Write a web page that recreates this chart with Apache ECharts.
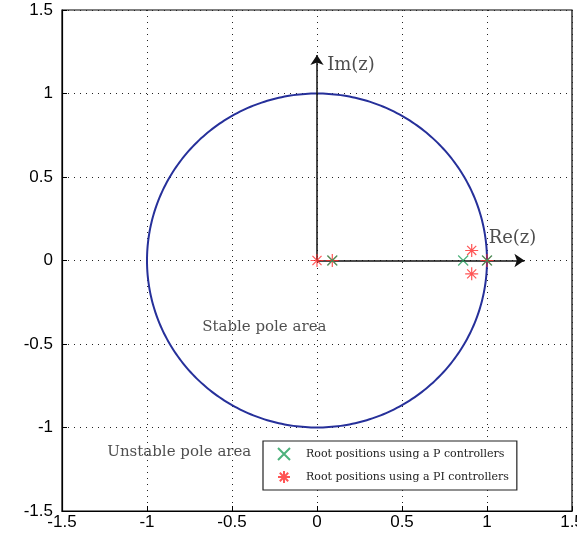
<!DOCTYPE html>
<html><head><meta charset="utf-8">
<script src="https://cdn.jsdelivr.net/npm/echarts@6/dist/echarts.min.js"></script>
<style>html,body{margin:0;padding:0;background:#fff}#c{width:577px;height:533px}</style>
</head><body><div id="c"></div>
<script>
// Data
const axisTicks = [-1.5, -1, -0.5, 0, 0.5, 1, 1.5];
const unitCircle = [[0, 0, 1]]; // center x, center y, radius
const pRoots = [[0.09, 0], [0.86, 0], [1.0, 0]];
const piRoots = [[0, 0], [0.09, 0], [0.91, 0.06], [0.91, -0.08], [1.0, 0]];
const imArrow = [[0, 0], [0, 1.23]];
const reArrow = [[0, 0], [1.22, 0]];
const annotations = [
  { name: 'Stable pole area', value: [-0.31, -0.40] },
  { name: 'Unstable pole area', value: [-0.81, -1.15] }
];
const axisNames = [
  { name: 'Im(z)', value: [0.2, 1.17] },
  { name: 'Re(z)', value: [1.15, 0.13] }
];

const serif = 'DejaVu Serif';
const green = '#1f9e5a';
const red = '#ff2a2a';
const xPath = 'path://M0,0L10,10M10,0L0,10';
const starPath = 'path://M5,0L5,10M0,5L10,5M1.5,1.5L8.5,8.5M8.5,1.5L1.5,8.5';

const chart = echarts.init(document.getElementById('c'), null, { renderer: 'canvas' });
const axisCommon = {
  type: 'value', min: -1.5, max: 1.5, interval: 0.5,
  axisLine: { show: true, onZero: false, lineStyle: { color: '#000', width: 1.2 } },
  axisTick: { show: true, inside: true, length: 5, lineStyle: { color: '#000' } },
  splitLine: { show: true, lineStyle: { color: '#222', type: [1, 5], width: 1 } },
  axisLabel: { color: '#000', fontFamily: 'Liberation Sans', fontSize: 17,
    formatter: v => String(v) }
};
chart.setOption({
  animation: false,
  grid: { left: 62, right: 5, top: 10, bottom: 22, outerBoundsMode: 'none', containLabel: false,
    show: true, borderColor: '#000', borderWidth: 1.2, backgroundColor: 'transparent' },
  xAxis: Object.assign({}, axisCommon, { axisLabel: Object.assign({}, axisCommon.axisLabel, { margin: 3 }) }),
  yAxis: Object.assign({}, axisCommon, { axisLabel: Object.assign({}, axisCommon.axisLabel, { margin: 9 }) }),
  legend: {
    orient: 'vertical', left: 263, top: 441,
    padding: [6, 8, 6, 14],
    backgroundColor: '#fff', borderColor: '#222', borderWidth: 1.2,
    itemWidth: 14, itemHeight: 12, itemGap: 9,
    textStyle: { fontFamily: serif, fontSize: 11, color: '#222', padding: [0, 0, 0, 10] },
    data: ['Root positions using a P controllers', 'Root positions using a PI controllers']
  },
  series: [
    {
      type: 'custom', name: 'circle', data: unitCircle, z: 2, silent: true,
      renderItem: function (params, api) {
        const cx = api.value(0), cy = api.value(1), r = api.value(2);
        const pts = [];
        for (let i = 0; i <= 360; i++) {
          const a = i * Math.PI / 180;
          pts.push(api.coord([cx + r * Math.cos(a), cy + r * Math.sin(a)]));
        }
        return { type: 'polyline', shape: { points: pts },
          style: { stroke: '#26309a', lineWidth: 2, fill: null } };
      }
    },
    {
      type: 'lines', coordinateSystem: 'cartesian2d', z: 3, silent: true,
      symbol: ['none', 'arrow'], symbolSize: 10,
      lineStyle: { color: '#111', width: 1.5, opacity: 1 },
      data: [{ coords: imArrow }, { coords: reArrow }]
    },
    {
      type: 'scatter', name: 'Root positions using a P controllers', data: pRoots, z: 5,
      symbol: xPath, symbolSize: 10,
      itemStyle: { color: 'rgba(0,0,0,0)', borderColor: green, borderWidth: 1.2 }
    },
    {
      type: 'scatter', name: 'Root positions using a PI controllers', data: piRoots, z: 4,
      symbol: starPath, symbolSize: 13,
      itemStyle: { color: 'rgba(0,0,0,0)', borderColor: red, borderWidth: 1.2 }
    },
    {
      type: 'scatter', name: 'ann', data: annotations, symbolSize: 0, silent: true, z: 6,
      label: { show: true, position: 'inside', formatter: p => p.name,
        fontFamily: serif, fontSize: 15, color: '#222' }
    },
    {
      type: 'scatter', name: 'axnames', data: axisNames, symbolSize: 0, silent: true, z: 6,
      label: { show: true, position: 'inside', formatter: p => p.name,
        fontFamily: serif, fontSize: 18, color: '#222' }
    }
  ]
});
</script></body></html>
